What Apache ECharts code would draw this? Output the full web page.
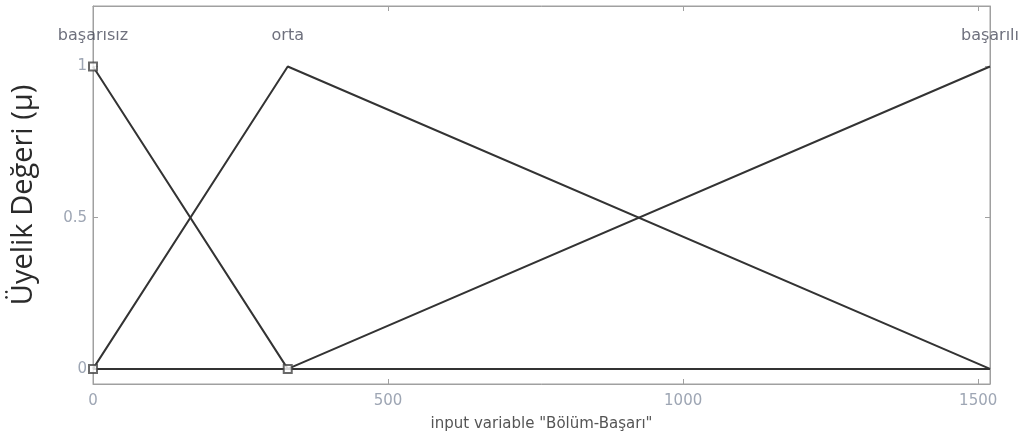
<!DOCTYPE html>
<html><head><meta charset="utf-8">
<script src="https://cdn.jsdelivr.net/npm/echarts@6/dist/echarts.min.js"></script>
<style>html,body{margin:0;padding:0;background:#fff}#c{width:1028px;height:444px}</style>
</head><body><div id="c"></div>
<script>
// Membership functions (x, µ)
const basarisiz = [[0,1],[330,0],[1520,0]];
const orta      = [[0,0],[330,1],[1520,0]];
const basarili  = [[0,0],[330,0],[1520,1]];
const mfNames   = ['başarısız','orta','başarılı'];
const mfPeaksX  = [0, 330, 1520];
const markerPts = [[0,1],[0,0],[330,0]];
const xTicks = [0,500,1000,1500];
const yTicks = [0,0.5,1];

const chart = echarts.init(document.getElementById('c'));
const lineStyle = {color:'#333', width:2};
const axisCol = '#a0a0a0';
const tickLbl = {color:'#9ea6b4', fontSize:15, fontFamily:'DejaVu Sans', formatter:v=>String(v)};
chart.setOption({
  animation:false,
  grid:{left:93,right:38,top:6,bottom:60,show:true,borderColor:axisCol,borderWidth:1},
  xAxis:[{
    type:'value',min:0,max:1520,
    name:'input variable "Bölüm-Başarı"',nameLocation:'middle',nameGap:33,
    nameTextStyle:{color:'#555',fontSize:15,fontFamily:'DejaVu Sans'},
    axisLine:{show:true,onZero:false,lineStyle:{color:axisCol}},
    axisTick:{show:true,inside:true,length:5,customValues:xTicks,lineStyle:{color:axisCol}},
    axisLabel:{customValues:xTicks,margin:10,...tickLbl},
    splitLine:{show:false}
  },{
    type:'value',min:0,max:1520,position:'top',
    axisLine:{show:true,onZero:false,lineStyle:{color:axisCol}},
    axisTick:{show:true,inside:true,length:5,customValues:xTicks,lineStyle:{color:axisCol}},
    axisLabel:{show:false},splitLine:{show:false}
  }],
  yAxis:[{
    type:'value',min:-0.05,max:1.2,
    name:'Üyelik Değeri (µ)',nameLocation:'middle',nameGap:55,
    nameTextStyle:{color:'#2a2a2a',fontSize:29,fontFamily:'Open Sans'},
    axisLine:{show:true,onZero:false,lineStyle:{color:axisCol}},
    axisTick:{show:true,inside:true,length:5,customValues:yTicks,lineStyle:{color:axisCol}},
    axisLabel:{customValues:yTicks,margin:6,...tickLbl},
    splitLine:{show:false}
  },{
    type:'value',min:-0.05,max:1.2,position:'right',
    axisLine:{show:true,onZero:false,lineStyle:{color:axisCol}},
    axisTick:{show:true,inside:true,length:5,customValues:yTicks,lineStyle:{color:axisCol}},
    axisLabel:{show:false},splitLine:{show:false}
  }],
  series:[
    {type:'line',data:basarisiz,symbol:'none',lineStyle,z:3},
    {type:'line',data:orta,symbol:'none',lineStyle,z:3},
    {type:'line',data:basarili,symbol:'none',lineStyle,z:3},
    {type:'scatter',data:markerPts,symbol:'emptyRect',symbolSize:8,
     itemStyle:{color:'#444',borderColor:'#444',borderWidth:1.2},z:4},
    {type:'scatter',data:mfPeaksX.map((x,i)=>({value:[x,1.1],name:mfNames[i]})),
     symbolSize:0,
     label:{show:true,position:'inside',formatter:p=>p.name,color:'#4a4c5c',fontSize:16,
            fontFamily:'DejaVu Sans'},z:5}
  ]
});
</script></body></html>
